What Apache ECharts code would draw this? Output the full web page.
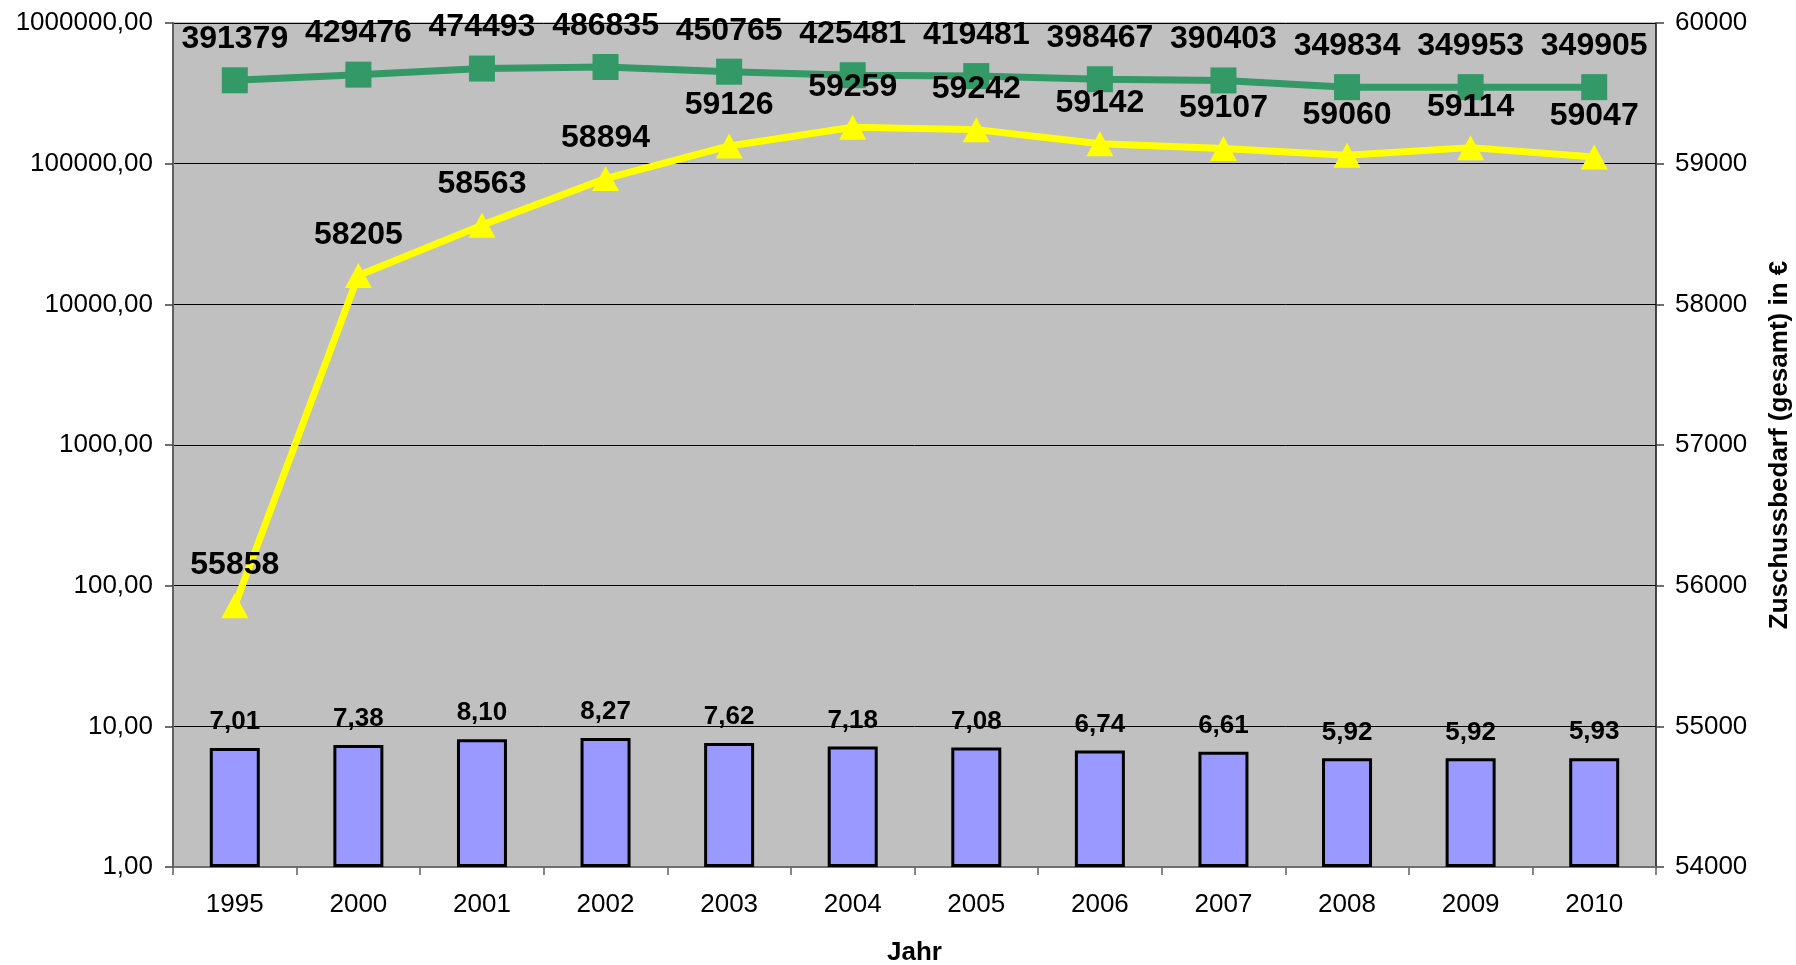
<!DOCTYPE html>
<html>
<head>
<meta charset="utf-8">
<script src="https://cdn.jsdelivr.net/npm/echarts@6/dist/echarts.min.js"></script>
<style>html,body{margin:0;padding:0;background:#fff;}#c{width:1796px;height:965px;}</style>
</head>
<body>
<div id="c"></div>
<script>
const categories = ['1995','2000','2001','2002','2003','2004','2005','2006','2007','2008','2009','2010'];
const barValues = [7.01, 7.38, 8.10, 8.27, 7.62, 7.18, 7.08, 6.74, 6.61, 5.92, 5.92, 5.93];
const greenValues = [391379, 429476, 474493, 486835, 450765, 425481, 419481, 398467, 390403, 349834, 349953, 349905];
const yellowValues = [55858, 58205, 58563, 58894, 59126, 59259, 59242, 59142, 59107, 59060, 59114, 59047];
const rightAxisName = 'Zuschussbedarf (gesamt) in €';
const xAxisName = 'Jahr';

const FONT = '"Liberation Sans", Arial, sans-serif';
const chart = echarts.init(document.getElementById('c'));
chart.setOption({
  animation: false,
  backgroundColor: '#ffffff',
  textStyle: { fontFamily: FONT },
  grid: {
    left: 173, right: 140, top: 23, bottom: 98,
    containLabel: false,
    outerBoundsMode: 'none',
    show: true, backgroundColor: '#C0C0C0', borderColor: '#808080', borderWidth: 1
  },
  xAxis: {
    type: 'category',
    data: categories,
    boundaryGap: true,
    name: xAxisName,
    nameLocation: 'middle',
    nameGap: 73,
    nameTextStyle: { fontFamily: FONT, fontSize: 26, fontWeight: 'bold', color: '#000' },
    axisLine: { show: true, lineStyle: { color: '#707070', width: 2 } },
    axisTick: { show: true, length: 8, lineStyle: { color: '#606060', width: 1.5 } },
    axisLabel: { color: '#000', fontFamily: FONT, fontSize: 26, margin: 25 },
    splitLine: { show: false }
  },
  yAxis: [
    {
      type: 'log',
      logBase: 10,
      min: 1,
      max: 1000000,
      position: 'left',
      axisLine: { show: true, onZero: false, lineStyle: { color: '#606060', width: 2 } },
      axisTick: { show: true, length: 8, lineStyle: { color: '#404040', width: 1.5 } },
      axisLabel: {
        color: '#000', fontFamily: FONT, fontSize: 26, margin: 20,
        formatter: v => Number(v).toFixed(2).replace('.', ',')
      },
      splitLine: { show: true, lineStyle: { color: '#000', width: 1 } },
      minorTick: { show: false },
      minorSplitLine: { show: false }
    },
    {
      type: 'value',
      min: 54000,
      max: 60000,
      interval: 1000,
      position: 'right',
      name: rightAxisName,
      nameLocation: 'middle',
      nameRotate: 90,
      nameGap: 111,
      nameTextStyle: { fontFamily: FONT, fontSize: 26, fontWeight: 'bold', color: '#000' },
      axisLine: { show: true, onZero: false, lineStyle: { color: '#202020', width: 1.5 } },
      axisTick: { show: true, length: 8, lineStyle: { color: '#404040', width: 1.5 } },
      axisLabel: { color: '#000', fontFamily: FONT, fontSize: 26, margin: 19, formatter: v => String(v) },
      splitLine: { show: false }
    }
  ],
  series: [
    {
      type: 'bar',
      yAxisIndex: 0,
      data: barValues,
      barWidth: 50,
      itemStyle: { color: '#9999FF', borderColor: '#000', borderWidth: 3 },
      label: {
        show: true, position: 'top', distance: 13,
        fontFamily: FONT, fontSize: 26, fontWeight: 'bold', color: '#000',
        formatter: p => p.value.toFixed(2).replace('.', ',')
      },
      z: 2
    },
    {
      type: 'line',
      yAxisIndex: 0,
      data: greenValues,
      symbol: 'rect',
      symbolSize: 26,
      lineStyle: { color: '#339966', width: 7 },
      itemStyle: { color: '#339966' },
      label: {
        show: true, position: 'top', distance: 12,
        fontFamily: FONT, fontSize: 32, fontWeight: 'bold', color: '#000'
      },
      z: 3
    },
    {
      type: 'line',
      yAxisIndex: 1,
      data: yellowValues,
      symbol: 'triangle',
      symbolSize: [27, 25],
      lineStyle: { color: '#FFFF00', width: 7 },
      itemStyle: { color: '#FFFF00' },
      label: {
        show: true, position: 'top', distance: 12,
        fontFamily: FONT, fontSize: 32, fontWeight: 'bold', color: '#000'
      },
      z: 4
    }
  ]
});
</script>
</body>
</html>
